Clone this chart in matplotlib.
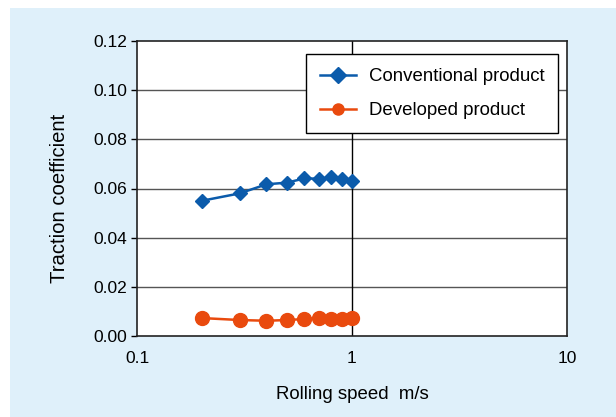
import matplotlib

matplotlib.use("Agg")

import matplotlib.pyplot as plt
from matplotlib.patches import Rectangle

plt.rcParams["font.family"] = ["Liberation Sans", "DejaVu Sans"]

speed = [0.2, 0.3, 0.4, 0.5, 0.6, 0.7, 0.8, 0.9, 1.0]
conventional = [0.0550, 0.0580, 0.0617, 0.0624, 0.0641, 0.0640, 0.0645, 0.0640, 0.0632]
developed = [0.0073, 0.0065, 0.0062, 0.0065, 0.0069, 0.0073, 0.0071, 0.0069, 0.0072]

y_ticks = [0.00, 0.02, 0.04, 0.06, 0.08, 0.10, 0.12]
x_ticks = [0.1, 1, 10]
x_tick_labels = ["0.1", "1", "10"]

BLUE = "#0b5bab"
ORANGE = "#e94a0e"
PANEL = "#dff0fa"

W, H = 616, 417
fig = plt.figure(figsize=(W / 100, H / 100), dpi=100)
fig.patch.set_facecolor("white")
# light-blue panel behind the chart
fig.patches.append(Rectangle((10 / W, 0), 1 - 10 / W, 1 - 8 / H,
                             transform=fig.transFigure, facecolor=PANEL,
                             edgecolor="none", zorder=-10))

ax = fig.add_axes([137 / W, 1 - 336 / H, (567 - 137) / W, (336 - 41) / H])
ax.set_facecolor("white")
ax.set_xscale("log")
ax.set_xlim(0.1, 10)
ax.set_ylim(0, 0.12)

for y in y_ticks[1:-1]:
    ax.axhline(y, color="#555555", lw=1.0, zorder=1)
ax.axvline(1, color="black", lw=1.0, zorder=1)

ax.plot(speed, conventional, color=BLUE, lw=1.8, marker="D", ms=7.5,
        label="Conventional product", zorder=3)
ax.plot(speed, developed, color=ORANGE, lw=1.8, marker="o", ms=10,
        label="Developed product", zorder=3)

ax.set_xticks(x_ticks)
ax.set_xticklabels(x_tick_labels)
ax.xaxis.set_minor_locator(matplotlib.ticker.NullLocator())
ax.set_yticks(y_ticks)
ax.set_yticklabels([f"{v:.2f}" for v in y_ticks])
ax.tick_params(axis="y", direction="out", length=4, width=1, labelsize=12.5, pad=3)
ax.tick_params(axis="x", length=0, labelsize=12.5, pad=11)
for s in ax.spines.values():
    s.set_color("#222222")
    s.set_linewidth(1.2)

ax.set_xlabel("Rolling speed  m/s", fontsize=13.4, labelpad=14)
ax.set_ylabel("Traction coefficient", fontsize=14.6)
ax.yaxis.set_label_coords(-0.158, 0.468)

leg = ax.legend(loc="upper right", bbox_to_anchor=(0.98, 0.955), fontsize=13.4,
                frameon=True, fancybox=False, handlelength=1.9,
                borderpad=0.75, labelspacing=0.9, handletextpad=0.7,
                borderaxespad=0)
leg.get_frame().set_edgecolor("black")
leg.get_frame().set_linewidth(1.0)
leg.get_frame().set_alpha(1)
for h in leg.legend_handles:
    h.set_markersize(8)

fig.savefig("out.png", dpi=100, facecolor=fig.get_facecolor())
